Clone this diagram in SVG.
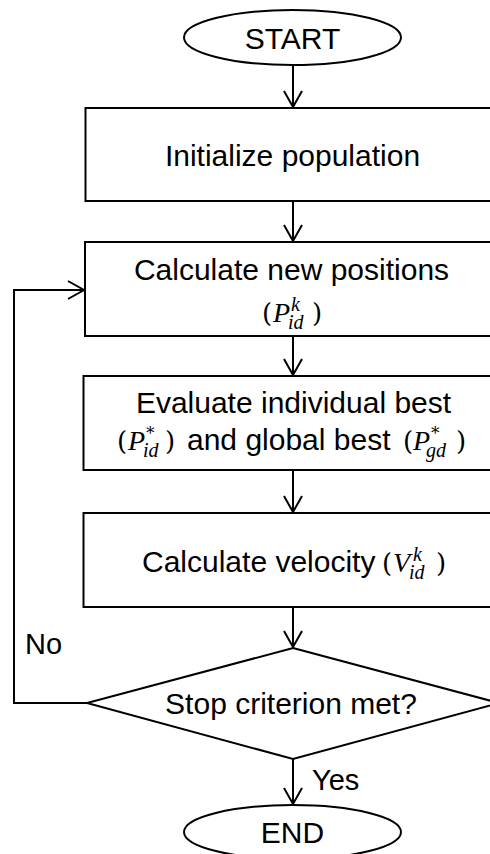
<svg xmlns="http://www.w3.org/2000/svg" width="490" height="854" viewBox="0 0 490 854">
  <defs>
    <marker id="arrow" markerUnits="userSpaceOnUse" markerWidth="20" markerHeight="22" refX="0" refY="0" viewBox="-18 -11 20 22" orient="auto" overflow="visible">
      <path d="M -16 -9 L 0 0 L -16 9" fill="none" stroke="#000" stroke-width="2"/>
    </marker>
    <style>
      .shape { fill: #fff; stroke: #000; stroke-width: 2; }
      .edge { fill: none; stroke: #000; stroke-width: 2; marker-end: url(#arrow); }
      .txt { font-family: "Liberation Sans", Arial, sans-serif; font-size: 30px; fill: #000; }
      .lbl { font-family: "Liberation Sans", Arial, sans-serif; font-size: 29px; fill: #000; }
      .m { font-family: "DejaVu Serif", "Liberation Serif", serif; font-size: 26px; fill: #000; }
      .v { font-family: "Liberation Serif", "DejaVu Serif", serif; font-style: italic; font-size: 28px; }
      .s { font-family: "Liberation Serif", "DejaVu Serif", serif; font-style: italic; font-size: 20px; }
      .st { font-family: "DejaVu Serif", serif; font-size: 17px; }
    </style>
  </defs>

  <!-- connectors -->
  <g id="connectors">
    <line class="edge" x1="293" y1="65" x2="293" y2="107"/>
    <line class="edge" x1="293" y1="201" x2="293" y2="241"/>
    <line class="edge" x1="293" y1="336" x2="293" y2="375"/>
    <line class="edge" x1="293" y1="470" x2="293" y2="512"/>
    <line class="edge" x1="293" y1="607" x2="293" y2="647"/>
    <line class="edge" x1="293" y1="759" x2="293" y2="804"/>
    <polyline class="edge" points="87,703 14,703 14,290 84,290"/>
    <text class="lbl" x="25" y="654">No</text>
    <text class="lbl" x="312" y="790" font-size="28">Yes</text>
  </g>

  <g id="start">
    <ellipse class="shape" cx="292.5" cy="37.5" rx="108.5" ry="27.5"/>
    <text class="txt" x="292.5" y="49" text-anchor="middle">START</text>
  </g>

  <g id="init">
    <rect class="shape" x="85.5" y="108" width="420" height="93"/>
    <text class="txt" x="292.5" y="165.5" text-anchor="middle">Initialize population</text>
  </g>

  <g id="positions">
    <rect class="shape" x="85" y="242" width="420" height="94"/>
    <text class="txt" x="291.5" y="280" text-anchor="middle">Calculate new positions</text>
    <!-- (P^k_id) -->
    <text class="m"><tspan x="262" y="322">(</tspan><tspan class="v" x="273" y="322">P</tspan><tspan class="s" x="291" y="311">k</tspan><tspan class="s" x="288" y="329">id</tspan><tspan x="312" y="322">)</tspan></text>
  </g>

  <g id="evaluate">
    <rect class="shape" x="83.5" y="376" width="420" height="94"/>
    <text class="txt" x="293.5" y="413" text-anchor="middle">Evaluate individual best</text>
    <!-- (P*_id) and global best (P*_gd) -->
    <text class="m"><tspan x="117" y="450">(</tspan><tspan class="v" x="128" y="450">P</tspan><tspan class="st" x="146" y="439">*</tspan><tspan class="s" x="143" y="457">id</tspan><tspan x="165" y="450">)</tspan></text>
    <text class="txt" x="187" y="450">and global best</text>
    <text class="m"><tspan x="403" y="450">(</tspan><tspan class="v" x="413" y="450">P</tspan><tspan class="st" x="431" y="439">*</tspan><tspan class="s" x="426" y="457">gd</tspan><tspan x="456" y="450">)</tspan></text>
  </g>

  <g id="velocity">
    <rect class="shape" x="83.5" y="513" width="420" height="94"/>
    <text class="txt" x="142" y="572">Calculate velocity</text>
    <!-- (V^k_id) -->
    <text class="m"><tspan x="382" y="572">(</tspan><tspan class="v" x="393" y="572">V</tspan><tspan class="s" x="413" y="561">k</tspan><tspan class="s" x="409" y="579">id</tspan><tspan x="436" y="572">)</tspan></text>
  </g>

  <g id="decision">
    <polygon class="shape" points="293,648 499,703 293,759 87,703"/>
    <text class="txt" x="291" y="714" text-anchor="middle">Stop criterion met?</text>
  </g>

  <g id="end">
    <ellipse class="shape" cx="292.5" cy="832" rx="108.5" ry="27"/>
    <text class="txt" x="292.5" y="843" text-anchor="middle">END</text>
  </g>
</svg>
